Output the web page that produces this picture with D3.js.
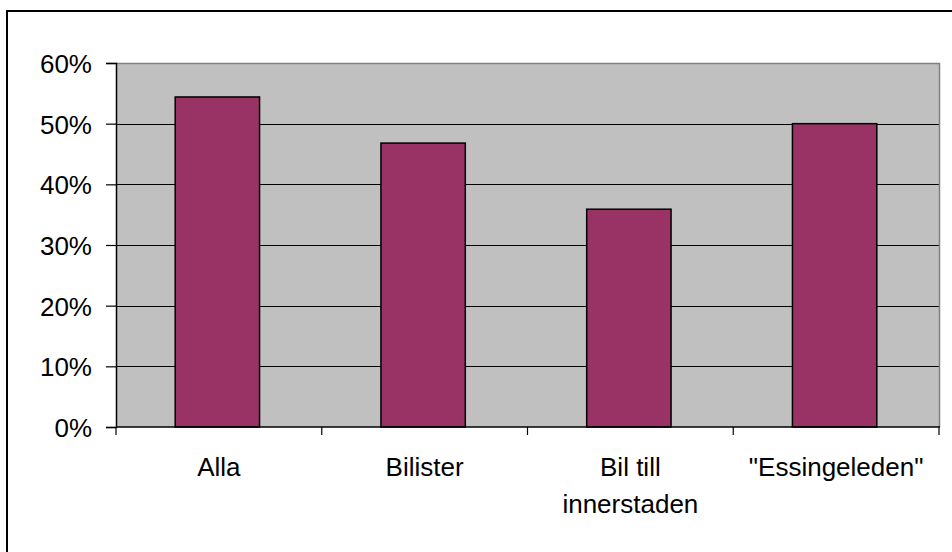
<!DOCTYPE html>
<html>
<head>
<meta charset="utf-8">
<script src="https://cdn.jsdelivr.net/npm/d3@7"></script>
<style>
  html, body { margin: 0; padding: 0; background: #fff; }
  svg { display: block; }
  text { font-family: "Liberation Sans", Arial, sans-serif; fill: #000; }
</style>
</head>
<body>
<svg id="chart" width="952" height="552"></svg>
<script>
// Share of respondents per group
const categories = [["Alla"], ["Bilister"], ["Bil till", "innerstaden"], ["\"Essingeleden\""]];
const values = [0.544, 0.468, 0.359, 0.50];
const yTicks = [0, 0.1, 0.2, 0.3, 0.4, 0.5, 0.6];

const svg = d3.select("#chart");
const plot = { left: 116, right: 939, top: 63, bottom: 427 };
const fontSize = 26;

// Outer frame of the chart object
svg.append("rect")
  .attr("x", 7).attr("y", 11)
  .attr("width", 1000).attr("height", 1000)
  .attr("fill", "#fff")
  .attr("stroke", "#000").attr("stroke-width", 2);

const x = d3.scaleBand()
  .domain(categories.map((d, i) => i))
  .range([plot.left, plot.right])
  .paddingInner(0.59)
  .paddingOuter(0.295);

const y = d3.scaleLinear().domain([0, 0.6]).range([plot.bottom, plot.top]);

// Plot background
svg.append("rect")
  .attr("x", plot.left).attr("y", plot.top)
  .attr("width", plot.right - plot.left).attr("height", plot.bottom - plot.top)
  .attr("fill", "#c0c0c0");

// Horizontal gridlines
svg.append("g")
  .selectAll("line")
  .data(yTicks.filter(t => t > 0 && t < 0.6))
  .join("line")
  .attr("x1", plot.left).attr("x2", plot.right)
  .attr("y1", d => Math.round(y(d)) + 0.5).attr("y2", d => Math.round(y(d)) + 0.5)
  .attr("stroke", "#000").attr("stroke-width", 1.2);

// Top and right plot border
svg.append("path")
  .attr("d", `M${plot.left},${plot.top + 0.5}H${plot.right + 0.5}V${plot.bottom}`)
  .attr("fill", "none")
  .attr("stroke", "#808080").attr("stroke-width", 1.5);

// Bars
svg.append("g")
  .selectAll("rect")
  .data(values)
  .join("rect")
  .attr("x", (d, i) => x(i) - 1.5)
  .attr("y", d => y(d))
  .attr("width", x.bandwidth())
  .attr("height", d => y(0) - y(d))
  .attr("fill", "#993366")
  .attr("stroke", "#000").attr("stroke-width", 1.5);

// Y axis
const yAxis = d3.axisLeft(y)
  .tickValues(yTicks)
  .tickFormat(d3.format(".0%"))
  .tickSize(10)
  .tickPadding(14);
const gy = svg.append("g")
  .attr("transform", `translate(${plot.left},0)`)
  .call(yAxis);
gy.select(".domain").attr("stroke", "#000").attr("stroke-width", 1.5);
gy.selectAll(".tick line").attr("stroke", "#000").attr("stroke-width", 1.2);
gy.selectAll(".tick text")
  .attr("font-size", fontSize)
  .attr("font-family", "'Liberation Sans', Arial, sans-serif")
  .attr("fill", "#000")
  .attr("dy", "0.36em");

// X axis: ticks sit between categories
const boundaries = d3.range(categories.length + 1).map(i => plot.left + i * x.step());
const gx = svg.append("g");
gx.append("line")
  .attr("x1", plot.left).attr("x2", plot.right + 1)
  .attr("y1", plot.bottom).attr("y2", plot.bottom)
  .attr("stroke", "#000").attr("stroke-width", 1.5);
gx.selectAll("line.tick")
  .data(boundaries)
  .join("line")
  .attr("class", "tick")
  .attr("x1", d => d).attr("x2", d => d)
  .attr("y1", plot.bottom).attr("y2", plot.bottom + 8)
  .attr("stroke", "#000").attr("stroke-width", 1.2);

const labels = svg.append("g")
  .selectAll("text")
  .data(categories)
  .join("text")
  .attr("x", (d, i) => x(i) + x.bandwidth() / 2)
  .attr("y", 476)
  .attr("text-anchor", "middle")
  .attr("font-size", fontSize);
labels.selectAll("tspan")
  .data(d => d)
  .join("tspan")
  .attr("x", function () { return d3.select(this.parentNode).attr("x"); })
  .attr("dy", (d, i) => i === 0 ? 0 : 37)
  .text(d => d);
</script>
</body>
</html>
